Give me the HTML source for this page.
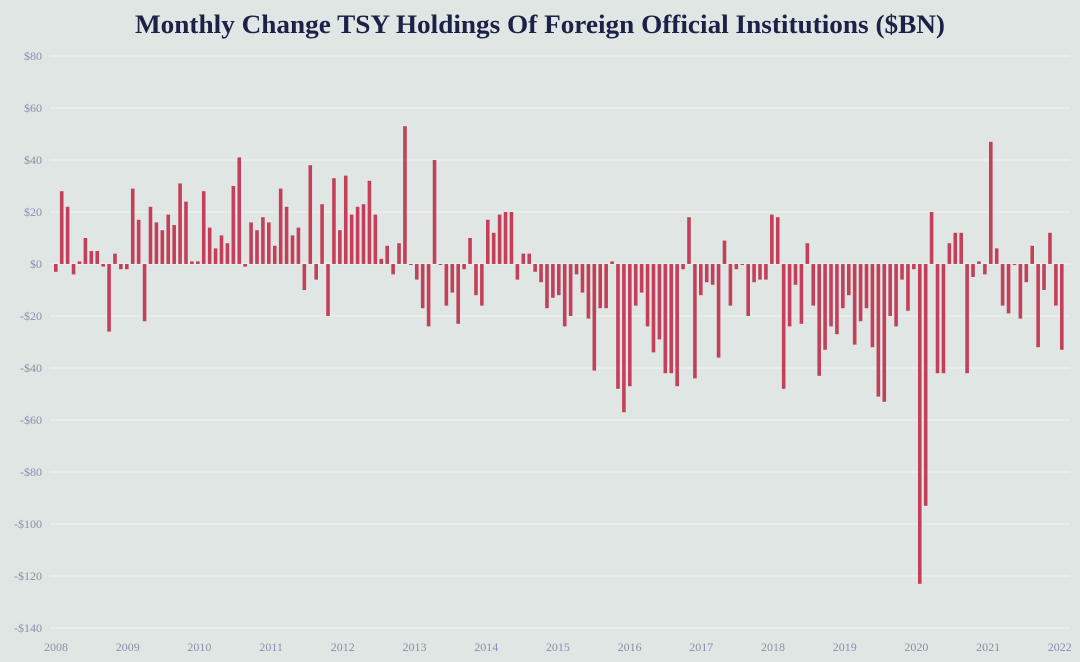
<!DOCTYPE html>
<html><head><meta charset="utf-8"><style>
html,body{margin:0;padding:0;background:#dfe6e3;}
svg{display:block;}
</style></head><body>
<svg id="chart" width="1080" height="662" xmlns="http://www.w3.org/2000/svg">
<rect x="0" y="0" width="1080" height="662" fill="#dfe6e3"/>
<text x="540" y="33" text-anchor="middle" textLength="810" lengthAdjust="spacingAndGlyphs" font-family="Liberation Serif, serif" font-weight="bold" font-size="26" fill="#1c2247">Monthly Change TSY Holdings Of Foreign Official Institutions ($BN)</text>
<g id="grid"></g><g id="bars"></g><g id="yt"></g><g id="xt"></g>
</svg>
<script>
const yTicks=[80,60,40,20,0,-20,-40,-60,-80,-100,-120,-140];
const yLabels=["$80","$60","$40","$20","$0","-$20","-$40","-$60","-$80","-$100","-$120","-$140"];
const xYears=[2008,2009,2010,2011,2012,2013,2014,2015,2016,2017,2018,2019,2020,2021,2022];
const values=[
-3,28,22,-4,1,10,5,5,-1,-26,4,-2,
-2,29,17,-22,22,16,13,19,15,31,24,1,
1,28,14,6,11,8,30,41,-1,16,13,18,
16,7,29,22,11,14,-10,38,-6,23,-20,33,
13,34,19,22,23,32,19,2,7,-4,8,53,
0,-6,-17,-24,40,0,-16,-11,-23,-2,10,-12,
-16,17,12,19,20,20,-6,4,4,-3,-7,-17,
-13,-12,-24,-20,-4,-11,-21,-41,-17,-17,1,-48,
-57,-47,-16,-11,-24,-34,-29,-42,-42,-47,-2,18,
-44,-12,-7,-8,-36,9,-16,-2,0,-20,-7,-6,
-6,19,18,-48,-24,-8,-23,8,-16,-43,-33,-24,
-27,-17,-12,-31,-22,-17,-32,-51,-53,-20,-24,-6,
-18,-2,-123,-93,20,-42,-42,8,12,12,-42,-5,
1,-4,47,6,-16,-19,0,-21,-7,7,-32,-10,
12,-16,-33];
const NS="http://www.w3.org/2000/svg";
const y=v=>264-v*2.6;
const x0=56,x1=1062;
const xi=i=>x0+i*(x1-x0)/(values.length-1);
const xYear=yr=>56+(yr-2008)*71.7;
const grid=document.getElementById('grid'),yt=document.getElementById('yt'),xt=document.getElementById('xt'),bars=document.getElementById('bars');
yTicks.forEach((t,k)=>{
 const l=document.createElementNS(NS,'line');
 l.setAttribute('x1',50);l.setAttribute('x2',1070);l.setAttribute('y1',y(t));l.setAttribute('y2',y(t));
 l.setAttribute('stroke','#ebefed');l.setAttribute('stroke-width','1.5');
 
 
 grid.appendChild(l);
 const tx=document.createElementNS(NS,'text');
 tx.setAttribute('x',42);tx.setAttribute('y',y(t)+4);tx.setAttribute('text-anchor','end');
 tx.setAttribute('font-family','Liberation Serif, serif');tx.setAttribute('font-size','12');tx.setAttribute('fill','#8a90a8');
 tx.textContent=yLabels[k];
 
 
 yt.appendChild(tx);
});
xYears.forEach(yr=>{
 const tx=document.createElementNS(NS,'text');
 tx.setAttribute('x',xYear(yr));tx.setAttribute('y',651);tx.setAttribute('text-anchor','middle');
 tx.setAttribute('font-family','Liberation Serif, serif');tx.setAttribute('font-size','12');tx.setAttribute('fill','#8a90a8');
 tx.textContent=yr;
 
 
 xt.appendChild(tx);
});
values.forEach((v,i)=>{
 const r=document.createElementNS(NS,'rect');
 const top=Math.min(y(v),y(0)),h=Math.max(Math.abs(y(v)-y(0)),1);
 r.setAttribute('x',xi(i)-2);r.setAttribute('y',top);r.setAttribute('width',3.6);r.setAttribute('height',h);
 r.setAttribute('fill','#c4405a');
 
 
 bars.appendChild(r);
});
</script>
</body></html>
